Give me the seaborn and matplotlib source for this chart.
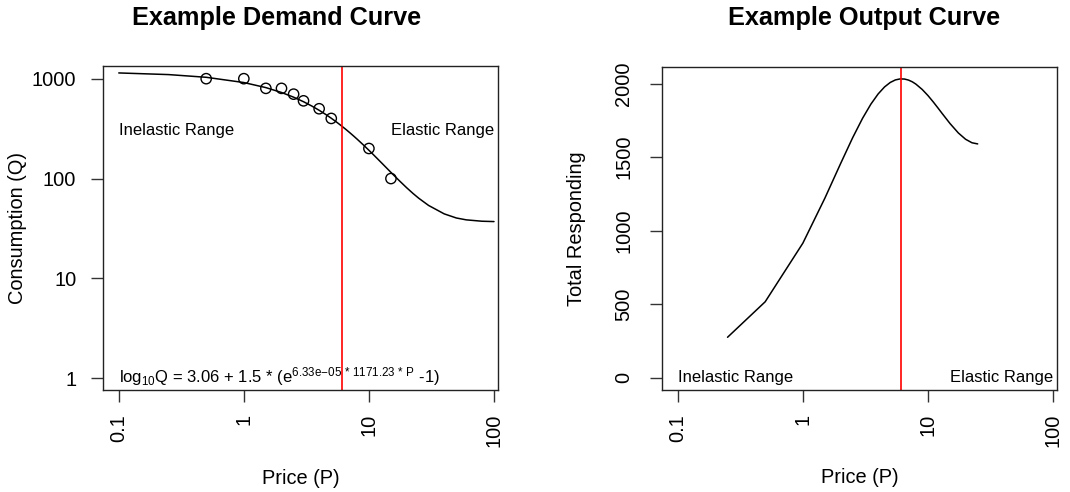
import numpy as np
import pandas as pd
import matplotlib
matplotlib.use('Agg')
import matplotlib.pyplot as plt
import seaborn as sns

# observed consumption at each price
price_obs = [0.5, 1, 1.5, 2, 2.5, 3, 4, 5, 10, 15]
cons_obs = [1000, 1000, 800, 800, 700, 600, 500, 400, 200, 100]

# fitted demand curve
price_curve = [0.1, 0.25, 0.5, 1, 1.5, 2, 2.5, 3, 3.5, 4, 4.5, 5, 5.5, 6,
               6.5, 7, 7.5, 8, 9, 10, 11, 12, 13, 15, 17.5, 20, 22.5, 25,
               30, 40, 50, 60, 80, 100]
cons_curve = [1141.6, 1099.1, 1032.8, 915.0, 814.2, 727.6, 652.9, 588.1,
              531.8, 482.7, 439.6, 401.8, 368.4, 338.8, 312.6, 289.3, 268.4,
              249.8, 217.9, 192.0, 170.7, 153.0, 138.3, 115.3, 95.2, 81.1,
              71.0, 63.6, 53.8, 44.3, 40.3, 38.6, 37.4, 37.1]

# output (price x consumption), right panel
price_out = [0.25, 0.5, 1, 1.5, 2, 2.5, 3, 3.5, 4, 4.5, 5, 5.5, 6, 6.5, 7,
             7.5, 8, 9, 10, 11, 12, 13, 15, 17.5, 20, 22.5, 25]
total_out = [274.8, 516.4, 915.0, 1221.3, 1455.2, 1632.2, 1764.4, 1861.4,
             1930.7, 1978.3, 2008.9, 2026.2, 2033.0, 2032.0, 2024.9, 2013.2,
             1998.0, 1961.2, 1920.0, 1877.6, 1836.4, 1797.6, 1729.8, 1665.3,
             1622.3, 1598.4, 1590.6]

pmax = 6.12
x_ticks = [0.1, 1, 10, 100]
x_labels = ['0.1', '1', '10', '100']
y1_ticks = [1, 10, 100, 1000]
y1_labels = ['1', '10', '100', '1000']
y2_ticks = [0, 500, 1000, 1500, 2000]

sns.set_theme(style='ticks')
plt.rcParams['font.family'] = ['Liberation Sans', 'DejaVu Sans']
plt.rcParams['mathtext.fontset'] = 'custom'
plt.rcParams['mathtext.rm'] = 'Liberation Sans'
plt.rcParams['mathtext.it'] = 'Liberation Sans:italic'
plt.rcParams['mathtext.bf'] = 'Liberation Sans:bold'
plt.rcParams['text.color'] = 'black'
plt.rcParams['axes.labelcolor'] = 'black'

fig = plt.figure(figsize=(10.7, 4.92), dpi=100)
W, H = 1070, 492
ax1 = fig.add_axes([103 / W, 102 / H, 395 / W, 324 / H])
ax2 = fig.add_axes([662 / W, 102 / H, 395 / W, 323 / H])

demand = pd.DataFrame({'P': price_curve, 'Q': cons_curve})
obs = pd.DataFrame({'P': price_obs, 'Q': cons_obs})
output = pd.DataFrame({'P': price_out, 'T': total_out})

sns.lineplot(data=demand, x='P', y='Q', ax=ax1, color='black', lw=1.1,
             sort=False, estimator=None)
sns.scatterplot(data=obs, x='P', y='Q', ax=ax1, marker='o', s=55,
                color='black', facecolor='none', edgecolor='black',
                linewidth=1, zorder=3)
sns.lineplot(data=output, x='P', y='T', ax=ax2, color='black', lw=1.1,
             sort=False, estimator=None)

for ax in (ax1, ax2):
    ax.set_xscale('log')
    ax.set_xlim(10 ** -1.126, 10 ** 2.032)
    ax.axvline(pmax, color='red', lw=1.2)
    ax.set_xticks(x_ticks)
    ax.set_xticklabels(x_labels, rotation=90)
    ax.xaxis.set_minor_locator(matplotlib.ticker.NullLocator())
    ax.tick_params(length=8.6, width=1, color='#333333', pad=8.6,
                   labelsize=14.4, labelcolor='black')
    for s in ax.spines.values():
        s.set_color('#222222')
        s.set_linewidth(1.0)
    ax.set_xlabel('Price (P)', fontsize=14.4)
    ax.xaxis.set_label_coords(0.5, (390 - 478) / 324)
    ax.xaxis.label.set_verticalalignment('center')

ax1.set_yscale('log')
ax1.set_ylim(10 ** -0.117, 10 ** 3.127)
ax1.set_yticks(y1_ticks)
ax1.set_yticklabels(y1_labels)
ax1.yaxis.set_minor_locator(matplotlib.ticker.NullLocator())
ax1.tick_params(axis='y', pad=10.6)
ax1.set_ylabel('Consumption (Q)', fontsize=14.4)

ax2.set_ylim(-84, 2114)
ax2.set_yticks(y2_ticks)
ax2.set_yticklabels([str(v) for v in y2_ticks], rotation=90, va='center')
ax2.tick_params(axis='y', pad=12)
ax2.set_ylabel('Total Responding', fontsize=14.4)

for ax in (ax1, ax2):
    ax.yaxis.set_label_coords((18 - 103) / 395, 0.5)
    ax.yaxis.label.set_verticalalignment('center')

ax1.text(0.1, 304, 'Inelastic Range', ha='left', va='center', fontsize=12)
ax1.text(100, 304, 'Elastic Range', ha='right', va='center', fontsize=12)
eq = (r'log$_{\mathrm{10}}$Q = 3.06 + 1.5 * (e'
      r'$^{\mathrm{6.33e{-}05\,*\,1171.23\,*\,P}}$ -1)')
ax1.text(0.1, 0.92, eq, ha='left', va='baseline', fontsize=12)

ax2.text(0.1, 0, 'Inelastic Range', ha='left', va='center', fontsize=12)
ax2.text(100, 0, 'Elastic Range', ha='right', va='center', fontsize=12)

ax1.text((277 - 103) / 395, (390 - 18) / 324, 'Example Demand Curve',
         transform=ax1.transAxes, ha='center', va='center',
         fontsize=18.2, fontweight='bold')
ax2.text((864 - 662) / 395, (390 - 18) / 323, 'Example Output Curve',
         transform=ax2.transAxes, ha='center', va='center',
         fontsize=18.2, fontweight='bold')

fig.savefig('out.png', dpi=100, facecolor='white')
